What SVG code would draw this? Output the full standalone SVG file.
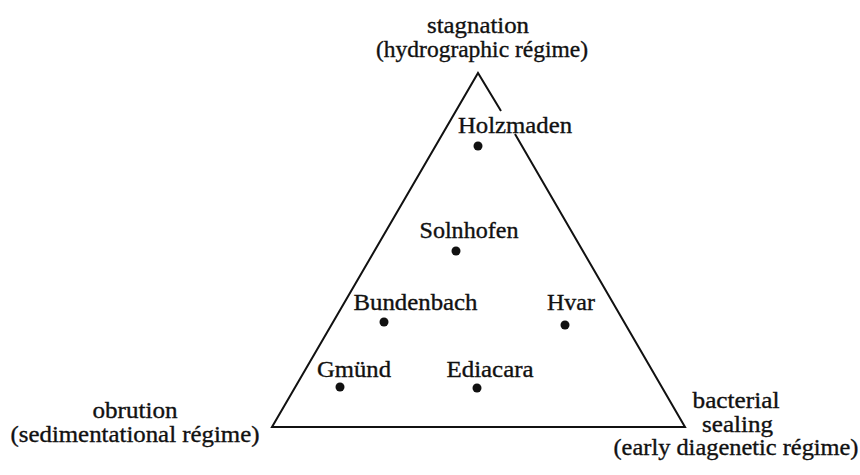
<svg xmlns="http://www.w3.org/2000/svg" width="860" height="475" viewBox="0 0 860 475" font-family="'Liberation Serif', 'Times New Roman', serif">
<style>
text{font-family:'Liberation Serif','Times New Roman',serif;font-size:23px;fill:#111;stroke:#111;stroke-width:0.35;text-anchor:middle}
.edge{stroke:#111;stroke-width:2;fill:none;stroke-linejoin:miter}
.dot{fill:#111}
</style>
<rect width="860" height="475" fill="#fff"/>
<g id="connectors">
<polyline class="edge" points="501,111 478,73 272,427 685,427 515,134"/>
</g>
<g id="stagnation">
<text x="478" y="33" textLength="102" lengthAdjust="spacingAndGlyphs">stagnation</text>
<text x="482" y="57" textLength="212" lengthAdjust="spacingAndGlyphs">(hydrographic régime)</text>
</g>
<g id="obrution">
<text x="135" y="418" textLength="85" lengthAdjust="spacingAndGlyphs">obrution</text>
<text x="135" y="442" textLength="249" lengthAdjust="spacingAndGlyphs">(sedimentational régime)</text>
</g>
<g id="bacterial-sealing">
<text x="736" y="408" textLength="87" lengthAdjust="spacingAndGlyphs">bacterial</text>
<text x="737.5" y="432" textLength="71" lengthAdjust="spacingAndGlyphs">sealing</text>
<text x="736" y="455" textLength="245" lengthAdjust="spacingAndGlyphs">(early diagenetic régime)</text>
</g>
<g id="holzmaden">
<text x="515" y="133" textLength="114" lengthAdjust="spacingAndGlyphs">Holzmaden</text>
<circle class="dot" cx="478" cy="146" r="4.5"/>
</g>
<g id="solnhofen">
<text x="469" y="238" textLength="99" lengthAdjust="spacingAndGlyphs">Solnhofen</text>
<circle class="dot" cx="456" cy="251" r="4.5"/>
</g>
<g id="bundenbach">
<text x="415.5" y="310" textLength="124" lengthAdjust="spacingAndGlyphs">Bundenbach</text>
<circle class="dot" cx="384" cy="322" r="4.5"/>
</g>
<g id="hvar">
<text x="571" y="310" textLength="48" lengthAdjust="spacingAndGlyphs">Hvar</text>
<circle class="dot" cx="565" cy="325" r="4.5"/>
</g>
<g id="gmund">
<text x="354" y="377" textLength="74" lengthAdjust="spacingAndGlyphs">Gmünd</text>
<circle class="dot" cx="340" cy="387" r="4.5"/>
</g>
<g id="ediacara">
<text x="490" y="377" textLength="87" lengthAdjust="spacingAndGlyphs">Ediacara</text>
<circle class="dot" cx="477" cy="388" r="4.5"/>
</g>
</svg>
